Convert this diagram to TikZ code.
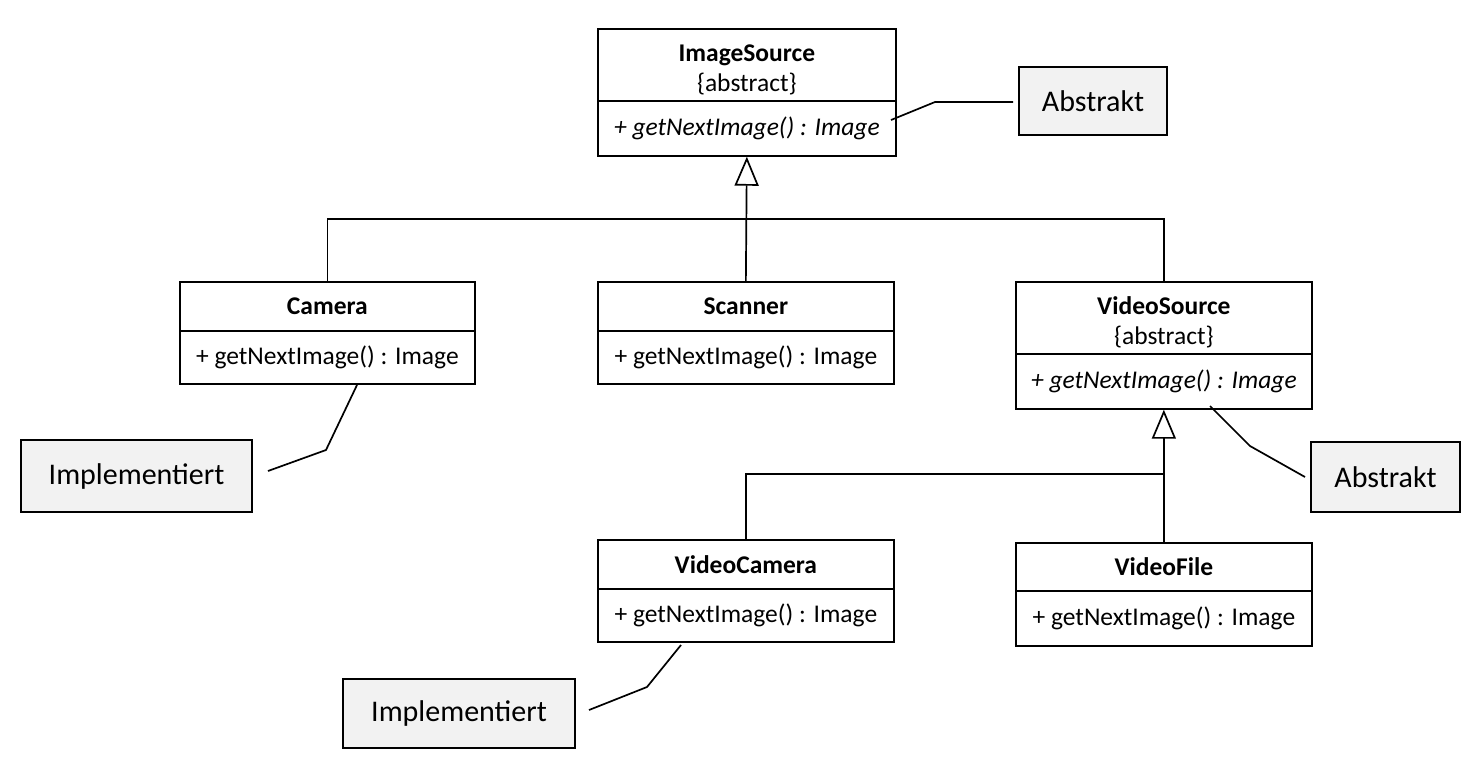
\documentclass[tikz,border=0pt]{standalone}
\usepackage{fontspec}
\setmainfont{Carlito}
\usetikzlibrary{arrows.meta}
\definecolor{notegray}{HTML}{F2F2F2}
\newcommand{\headstrut}{\rule{0pt}{26pt}}
\begin{document}
\begin{tikzpicture}[x=1pt,y=-1pt,
  comp/.style={draw, line width=1.7pt, anchor=north west, inner sep=0pt, align=center,
    font=\fontsize{25.5}{30}\selectfont, minimum width=#1},
  notebox/.style={draw, line width=1.7pt, fill=notegray, inner sep=0pt,
    font=\fontsize{30}{34}\selectfont},
  conn/.style={line width=1.7pt},
  inh/.style={line width=1.7pt, -{Triangle[open, length=29pt, width=24pt, fill=white]}}
]
\useasboundingbox (0,0) rectangle (1470,772);
\fill[white] (0,0) rectangle (1470,772);

% ImageSource
\node[comp=298pt, minimum height=72pt] (ish) at (597,28) {\headstrut\textbf{ImageSource}\\{\{abstract\}}};
\node[comp=298pt, minimum height=55pt] (is) at (597,100) {\itshape + getNextImage() : Image};

% Camera
\node[comp=295pt, minimum height=49pt] (camh) at (179,281) {\textbf{Camera}};
\node[comp=295pt, minimum height=53pt] (cam) at (179,330) {+ getNextImage() : Image};

% Scanner
\node[comp=296pt, minimum height=49pt] (sch) at (597,281) {\textbf{Scanner}};
\node[comp=296pt, minimum height=53pt] (sc) at (597,330) {+ getNextImage() : Image};

% VideoSource
\node[comp=296pt, minimum height=72pt] (vsh) at (1015,281) {\headstrut\textbf{VideoSource}\\{\{abstract\}}};
\node[comp=296pt, minimum height=55pt] (vs) at (1015,353) {\itshape + getNextImage() : Image};

% VideoCamera
\node[comp=296pt, minimum height=49pt] (vch) at (597,539) {\textbf{VideoCamera}};
\node[comp=296pt, minimum height=53pt] (vc) at (597,588) {+ getNextImage() : Image};

% VideoFile
\node[comp=296pt, minimum height=48pt] (vfh) at (1015,542) {\textbf{VideoFile}};
\node[comp=296pt, minimum height=55pt] (vf) at (1015,590) {+ getNextImage() : Image};

% Notes
\node[notebox, minimum width=148pt, minimum height=68pt] (n1) at (1093,101) {Abstrakt};
\node[notebox, minimum width=231pt, minimum height=72pt] (n2) at (136.5,476) {Implementiert};
\node[notebox, minimum width=149pt, minimum height=70pt] (n3) at (1385.5,477) {Abstrakt};
\node[notebox, minimum width=232pt, minimum height=69pt] (n4) at (459,713.5) {Implementiert};

% Inheritance
\coordinate (j1) at (746,219);
\draw[inh] (sch.north) -- (is.south);
\draw[conn] (camh.north) |- (j1) -| (vsh.north);
\coordinate (j2) at (1163,474);
\draw[inh] (vfh.north) -- (vs.south);
\draw[conn] (vch.north) |- (j2);

% Note connectors
\coordinate (a1) at (891,120);
\coordinate (b1) at (935,102);
\coordinate (c1) at (1013,102);
\draw[conn] (c1) -- (b1) -- (a1);

\coordinate (a2) at (357,385);
\coordinate (b2) at (326,450);
\coordinate (c2) at (268,471);
\draw[conn] (a2) -- (b2) -- (c2);

\coordinate (a3) at (1210,406);
\coordinate (b3) at (1250,446);
\coordinate (c3) at (1305,477);
\draw[conn] (a3) -- (b3) -- (c3);

\coordinate (a4) at (681,645);
\coordinate (b4) at (647,687);
\coordinate (c4) at (589,710);
\draw[conn] (a4) -- (b4) -- (c4);
\end{tikzpicture}
\end{document}
